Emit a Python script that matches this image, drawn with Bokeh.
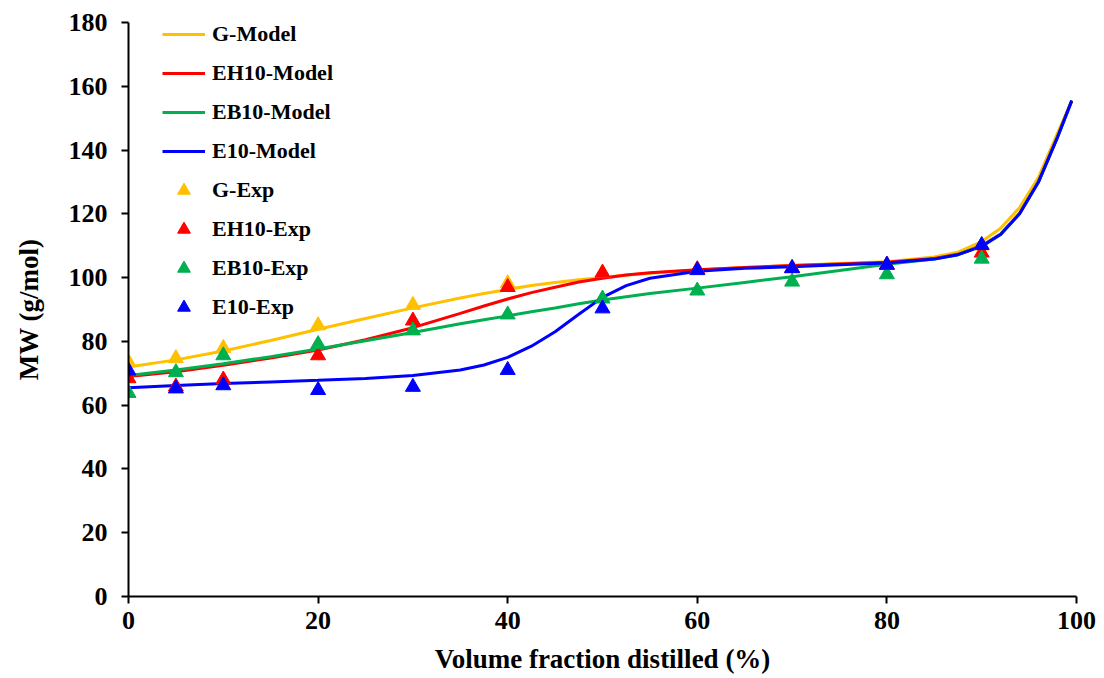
from bokeh.plotting import figure
from bokeh.models import Range1d, Legend, LegendItem, FixedTicker
from bokeh.embed import file_html
from bokeh.resources import INLINE

# Model curves: molecular weight vs. volume fraction distilled
x_model = [0, 5, 10, 15, 20, 25, 30, 35, 37.5, 40, 42.5, 45, 47.5, 50, 52.5, 55, 60, 65,
           70, 75, 80, 85, 87.5, 90, 92, 94, 96, 98, 99.5]
g_model = [72.0, 74.2, 77.0, 80.3, 83.8, 87.2, 90.5, 93.6, 95.0, 96.3, 97.5, 98.5, 99.3,
           100.0, 100.8, 101.4, 102.4, 103.2, 103.8, 104.4, 105.0, 106.5, 108.0, 111.3,
           115.5, 122.0, 131.5, 145.3, 155.5]
eh10_model = [69.0, 70.5, 72.5, 74.8, 77.3, 80.5, 84.3, 88.8, 91.1, 93.3, 95.3, 97.0, 98.6,
              99.8, 100.8, 101.5, 102.5, 103.2, 103.8, 104.3, 104.8, 106.0, 107.3, 110.0,
              113.7, 120.2, 130.2, 144.2, 155.5]
eb10_model = [69.3, 71.0, 73.0, 75.2, 77.6, 80.2, 82.8, 85.5, 86.8, 88.0, 89.3, 90.5, 91.8,
              93.0, 94.0, 95.0, 96.7, 98.5, 100.3, 102.2, 104.2, 105.8, 107.2, 110.0,
              113.6, 120.1, 130.1, 144.1, 155.5]
e10_model = [65.5, 66.2, 66.8, 67.3, 67.8, 68.4, 69.3, 71.0, 72.6, 75.0, 78.5, 83.0, 88.5,
             93.8, 97.5, 99.8, 102.0, 102.9, 103.4, 104.0, 104.6, 105.8, 107.2, 109.8,
             113.5, 120.0, 130.0, 144.0, 155.5]

# Experimental points
x_exp = [0, 5, 10, 20, 30, 40, 50, 60, 70, 80, 90]
g_exp = [73.5, 74.7, 77.9, 85.0, 91.4, 98.2, 101.5, 102.5, 103.0, 104.0, 110.0]
eh10_exp = [68.4, 65.8, 68.0, 75.6, 86.5, 97.0, 101.5, 102.6, 103.0, 104.0, 107.8]
eb10_exp = [63.8, 70.3, 75.6, 79.1, 83.4, 88.4, 93.4, 95.9, 98.7, 101.0, 105.9]
e10_exp = [70.8, 65.2, 66.2, 64.7, 65.7, 71.0, 90.3, 102.3, 102.9, 104.0, 110.2]

x_ticks = [0, 20, 40, 60, 80, 100]
y_ticks = [0, 20, 40, 60, 80, 100, 120, 140, 160, 180]

YELLOW = "#FFC000"
RED = "#FF0000"
GREEN = "#00B050"
BLUE = "#0000FF"
FONT = "Liberation Serif"

p = figure(width=1104, height=678, output_backend="svg", toolbar_location=None,
           x_range=Range1d(0, 100), y_range=Range1d(0, 180),
           min_border_left=128, min_border_right=28, min_border_top=22,
           min_border_bottom=82)
p.outline_line_color = None
p.xgrid.visible = False
p.ygrid.visible = False

for ax in (p.xaxis[0], p.yaxis[0]):
    ax.axis_line_width = 2
    ax.axis_line_color = "black"
    ax.major_tick_line_width = 2
    ax.major_tick_out = 7
    ax.major_tick_in = 0
    ax.minor_tick_line_color = None
    ax.major_label_text_font = FONT
    ax.major_label_text_font_style = "bold"
    ax.major_label_text_font_size = "26px"
    ax.major_label_text_color = "black"
    ax.axis_label_text_font = FONT
    ax.axis_label_text_font_style = "bold"
    ax.axis_label_text_font_size = "27px"
    ax.axis_label_text_color = "black"

p.xaxis.ticker = FixedTicker(ticks=x_ticks)
p.yaxis.ticker = FixedTicker(ticks=y_ticks)
p.xaxis.axis_label = "Volume fraction distilled (%)"
p.yaxis.axis_label = "MW (g/mol)"
p.xaxis.major_label_standoff = 8
p.yaxis.major_label_standoff = 14
p.xaxis.axis_label_standoff = 12
p.yaxis.axis_label_standoff = 22

lw = 3
l_g = p.line(x_model, g_model, line_color=YELLOW, line_width=lw)
l_eh = p.line(x_model, eh10_model, line_color=RED, line_width=lw)
l_eb = p.line(x_model, eb10_model, line_color=GREEN, line_width=lw)
l_e = p.line(x_model, e10_model, line_color=BLUE, line_width=lw)

ms = 15
m_g = p.scatter(x_exp, g_exp, marker="triangle", size=ms, fill_color=YELLOW, line_color=YELLOW)
m_eh = p.scatter(x_exp, eh10_exp, marker="triangle", size=ms, fill_color=RED, line_color=RED)
m_eb = p.scatter(x_exp, eb10_exp, marker="triangle", size=ms, fill_color=GREEN, line_color=GREEN)
m_e = p.scatter(x_exp, e10_exp, marker="triangle", size=ms, fill_color=BLUE, line_color=BLUE)

legend = Legend(items=[
    LegendItem(label="G-Model", renderers=[l_g]),
    LegendItem(label="EH10-Model", renderers=[l_eh]),
    LegendItem(label="EB10-Model", renderers=[l_eb]),
    LegendItem(label="E10-Model", renderers=[l_e]),
    LegendItem(label="G-Exp", renderers=[m_g]),
    LegendItem(label="EH10-Exp", renderers=[m_eh]),
    LegendItem(label="EB10-Exp", renderers=[m_eb]),
    LegendItem(label="E10-Exp", renderers=[m_e]),
], location=(34, 273))
legend.padding = 0
legend.margin = 0
legend.spacing = 7
legend.glyph_width = 43
legend.glyph_height = 32
legend.label_height = 20
legend.label_standoff = 7
legend.border_line_alpha = 0
legend.background_fill_alpha = 0
legend.label_text_font = FONT
legend.label_text_font_style = "bold"
legend.label_text_font_size = "22px"
legend.label_text_color = "black"
p.add_layout(legend)

open("out.html", "w").write(file_html(p, INLINE))
